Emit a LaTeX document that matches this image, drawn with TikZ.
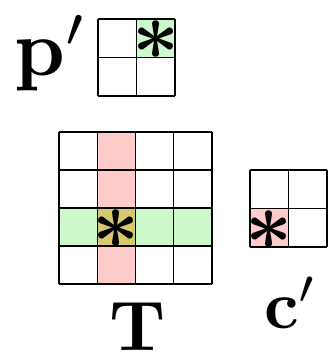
\documentclass[tikz,border=0pt]{standalone}
\usepackage{amsmath,amssymb}
\usepackage{tikz}
\usetikzlibrary{positioning,calc}
\usepackage{xcolor}
\definecolor{cellgreen}{RGB}{204,250,204}
\definecolor{cellred}{RGB}{255,204,204}
\definecolor{cellmix}{RGB}{214,201,107}

\begin{document}
\begin{tikzpicture}[x=0.03cm, y=-0.03cm,
    gridline/.style={black, line width=1pt},
    letter/.style={inner sep=0pt, anchor=base, scale=#1},
    star/.style={inner sep=0pt, scale=7}]
  \useasboundingbox (0,0) rectangle (333,352);
  % small grid p'
  \fill[cellgreen] (137,19) rectangle (176,57);
  \foreach \i in {0,1,2} {
    \draw[gridline] ($(98,19)+(\i*38.5,0)$) -- ++(0,77);
    \draw[gridline] ($(98,19)+(0,\i*38.5)$) -- ++(77,0);
  }
  \node[star] (pstar) at (156.5,40) {$\boldsymbol{\ast}$};
  \node[letter=6.8] (plabel) at (51,75) {$\mathbf{p}'$};
  % big grid T
  \fill[cellred] (97.25,132) rectangle (135.5,284);
  \fill[cellgreen] (59,208) rectangle (212,246);
  \fill[cellmix] (97.25,208) rectangle (135.5,246);
  \foreach \i in {0,...,4} {
    \draw[gridline] ($(59,132)+(\i*38.25,0)$) -- ++(0,152);
    \draw[gridline] ($(59,132)+(0,\i*38)$) -- ++(153,0);
  }
  \node[star] (tstar) at (116.4,229) {$\boldsymbol{\ast}$};
  \node[letter=6] (tlabel) at (137.5,350) {$\mathbf{T}$};
  % small grid c'
  \fill[cellred] (250,209) rectangle (288.5,247);
  \foreach \i in {0,1,2} {
    \draw[gridline] ($(250,170)+(\i*38.5,0)$) -- ++(0,77);
    \draw[gridline] ($(250,170)+(0,\i*38.5)$) -- ++(77,0);
  }
  \node[star] (cstar) at (269.2,230) {$\boldsymbol{\ast}$};
  \node[letter=5.8] (clabel) at (291,328) {$\mathbf{c}'$};
\end{tikzpicture}
\end{document}
